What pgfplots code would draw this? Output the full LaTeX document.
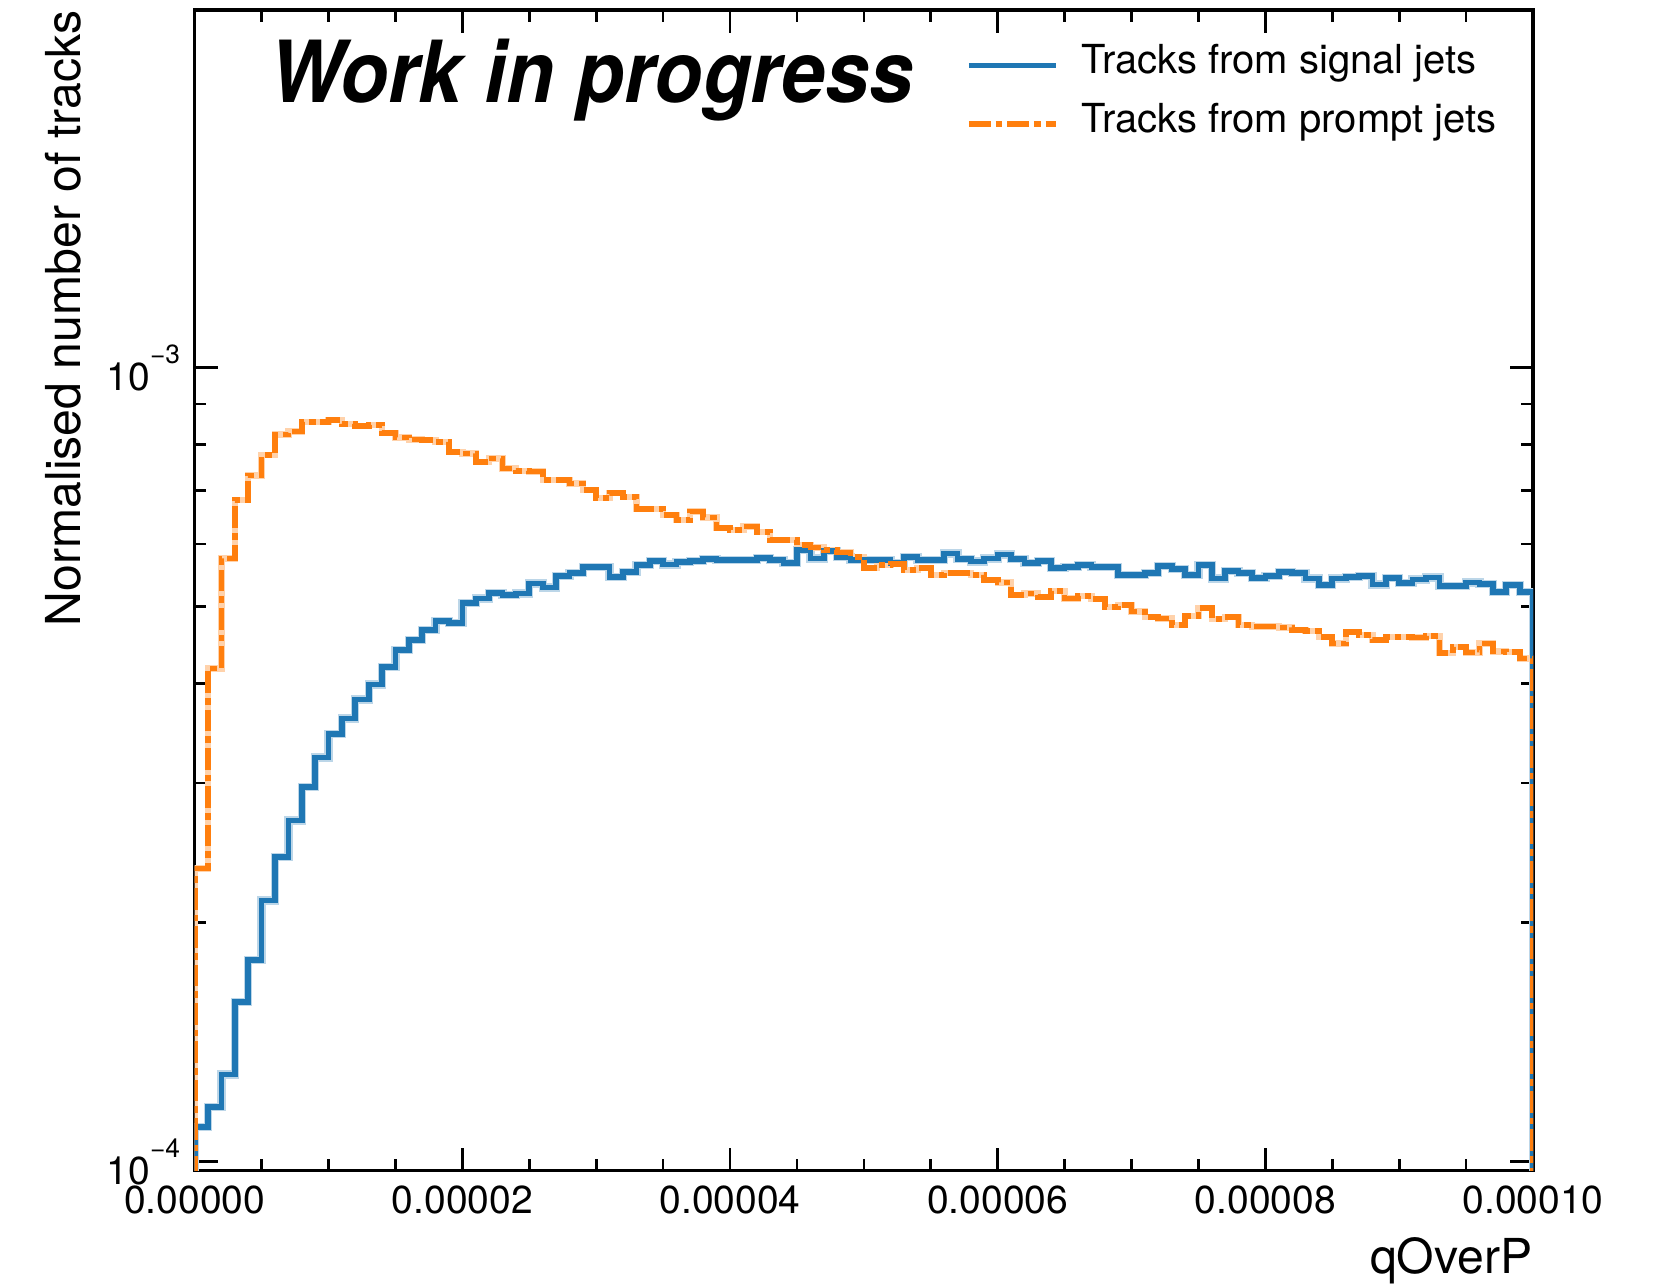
\documentclass[border=0pt]{standalone}
\usepackage{fontspec}
\setmainfont{TeX Gyre Heros}
\newfontfamily\wipfont[FakeStretch=0.92]{TeX Gyre Heros}
\usepackage{pgfplots}
\pgfplotsset{compat=1.18}
\usepackage{pgfplotstable}
\definecolor{mblue}{HTML}{1F77B4}
\definecolor{morange}{HTML}{FF7F0E}

\pgfplotstableread{
x y
0 1e-6
0 1.107e-4
1 1.171e-4
2 1.288e-4
3 1.590e-4
4 1.795e-4
5 2.133e-4
6 2.420e-4
7 2.690e-4
8 2.967e-4
9 3.230e-4
10 3.457e-4
11 3.617e-4
12 3.822e-4
13 3.992e-4
14 4.201e-4
15 4.410e-4
16 4.540e-4
17 4.673e-4
18 4.800e-4
19 4.770e-4
20 5.060e-4
21 5.120e-4
22 5.205e-4
23 5.170e-4
24 5.195e-4
25 5.350e-4
26 5.290e-4
27 5.470e-4
28 5.510e-4
29 5.615e-4
30 5.615e-4
31 5.450e-4
32 5.530e-4
33 5.640e-4
34 5.715e-4
35 5.650e-4
36 5.690e-4
37 5.715e-4
38 5.740e-4
39 5.725e-4
40 5.725e-4
41 5.730e-4
42 5.760e-4
43 5.725e-4
44 5.680e-4
45 5.890e-4
46 5.750e-4
47 5.880e-4
48 5.780e-4
49 5.725e-4
50 5.725e-4
51 5.725e-4
52 5.680e-4
53 5.780e-4
54 5.725e-4
55 5.725e-4
56 5.835e-4
57 5.740e-4
58 5.700e-4
59 5.750e-4
60 5.820e-4
61 5.740e-4
62 5.680e-4
63 5.710e-4
64 5.590e-4
65 5.615e-4
66 5.640e-4
67 5.615e-4
68 5.615e-4
69 5.480e-4
70 5.480e-4
71 5.520e-4
72 5.630e-4
73 5.580e-4
74 5.480e-4
75 5.640e-4
76 5.430e-4
77 5.550e-4
78 5.510e-4
79 5.440e-4
80 5.465e-4
81 5.530e-4
82 5.520e-4
83 5.430e-4
84 5.325e-4
85 5.430e-4
86 5.455e-4
87 5.465e-4
88 5.335e-4
89 5.440e-4
90 5.360e-4
91 5.410e-4
92 5.445e-4
93 5.315e-4
94 5.315e-4
95 5.365e-4
96 5.340e-4
97 5.220e-4
98 5.325e-4
99 5.220e-4
100 1e-6
}\signal

\pgfplotstableread{
x y
0 1e-6
0 2.340e-4
1 4.180e-4
2 5.750e-4
3 6.810e-4
4 7.320e-4
5 7.760e-4
6 8.240e-4
7 8.310e-4
8 8.550e-4
9 8.550e-4
10 8.590e-4
11 8.490e-4
12 8.440e-4
13 8.470e-4
14 8.280e-4
15 8.170e-4
16 8.120e-4
17 8.110e-4
18 8.070e-4
19 7.840e-4
20 7.800e-4
21 7.610e-4
22 7.690e-4
23 7.470e-4
24 7.420e-4
25 7.400e-4
26 7.220e-4
27 7.220e-4
28 7.150e-4
29 7.015e-4
30 6.850e-4
31 6.950e-4
32 6.880e-4
33 6.640e-4
34 6.640e-4
35 6.520e-4
36 6.430e-4
37 6.590e-4
38 6.480e-4
39 6.280e-4
40 6.245e-4
41 6.310e-4
42 6.215e-4
43 6.070e-4
44 6.070e-4
45 5.980e-4
46 5.940e-4
47 5.890e-4
48 5.850e-4
49 5.780e-4
50 5.590e-4
51 5.640e-4
52 5.660e-4
53 5.560e-4
54 5.590e-4
55 5.480e-4
56 5.520e-4
57 5.520e-4
58 5.480e-4
59 5.400e-4
60 5.365e-4
61 5.170e-4
62 5.195e-4
63 5.145e-4
64 5.235e-4
65 5.120e-4
66 5.160e-4
67 5.110e-4
68 5.000e-4
69 5.025e-4
70 4.930e-4
71 4.850e-4
72 4.835e-4
73 4.740e-4
74 4.870e-4
75 4.980e-4
76 4.825e-4
77 4.850e-4
78 4.740e-4
79 4.720e-4
80 4.720e-4
81 4.710e-4
82 4.670e-4
83 4.665e-4
84 4.580e-4
85 4.495e-4
86 4.650e-4
87 4.605e-4
88 4.540e-4
89 4.580e-4
90 4.580e-4
91 4.575e-4
92 4.590e-4
93 4.370e-4
94 4.450e-4
95 4.380e-4
96 4.495e-4
97 4.390e-4
98 4.385e-4
99 4.305e-4
100 1e-6
}\prompt

\begin{document}
\begin{tikzpicture}
\path[use as bounding box] (-58.41pt,-33.99pt) rectangle (441.09pt,351.21pt);
\begin{axis}[
  at={(0pt,0pt)}, anchor=south west,
  scale only axis, width=401.5pt, height=348.2pt,
  xmin=0, xmax=100,
  ymode=log, ymin=9.742e-5, ymax=2.822e-3,
  xtick={0,20,40,60,80,100},
  xticklabels={0.00000,0.00002,0.00004,0.00006,0.00008,0.00010},
  minor x tick num=3,
  ytick={1e-4,1e-3},
  yticklabels={{10\raisebox{8pt}{\fontsize{7.9}{8}\selectfont −4}},{10\raisebox{8pt}{\fontsize{7.9}{8}\selectfont −3}}},
  tick align=inside,
  xtick pos=both, ytick pos=both,
  major tick length=6.9pt, minor tick length=3.5pt,
  every tick/.style={black, line width=0.8pt},
  axis line style={line width=1pt},
  tick label style={font=\fontsize{11.7}{14}\selectfont},
  x tick label style={inner sep=0pt, yshift=-4.2pt},
  y tick label style={inner sep=0pt, xshift=-4.2pt},
  xlabel={qOverP}, ylabel={Normalised number of tracks},
  label style={font=\fontsize{14.45}{17}\selectfont},
  x label style={at={(axis description cs:1,0)}, anchor=base east, yshift=-30.7pt, inner sep=0pt},
  y label style={at={(axis description cs:-0.0857,1)}, anchor=base east, inner sep=0pt},
  legend cell align=left,
  legend image code/.code={\draw[#1] (0pt,0pt) -- (26pt,0pt);},
  legend style={at={(axis description cs:0.5764,0.9667)}, anchor=north west,
    draw=none, fill=none, inner sep=0pt, outer sep=0pt,
    row sep=7.6pt, column sep=6.8pt,
    font=\fontsize{12}{14}\selectfont,
    nodes={inner sep=0pt, text height=0.75em, text depth=0.25em}},
]
\addplot[const plot, mark=none, draw=mblue!30, line width=2.5pt, forget plot] table {\signal};
\addplot[const plot, mark=none, draw=morange!35, line width=1.9pt, forget plot] table {\prompt};
\addplot[const plot, mark=none, draw=mblue, line width=1.7pt] table {\signal};
\addlegendentry{Tracks from signal jets}
\addplot[const plot, mark=none, draw=morange, line width=1.7pt, dash pattern=on 6.5pt off 1.5pt on 2pt off 1.5pt] table {\prompt};
\addlegendentry{Tracks from prompt jets}
\node[anchor=base west, inner sep=0pt, font=\wipfont\fontsize{25.7}{30}\selectfont\bfseries\itshape] at (axis description cs:0.0553,0.9207) {Work in progress};
\end{axis}
\end{tikzpicture}
\end{document}
